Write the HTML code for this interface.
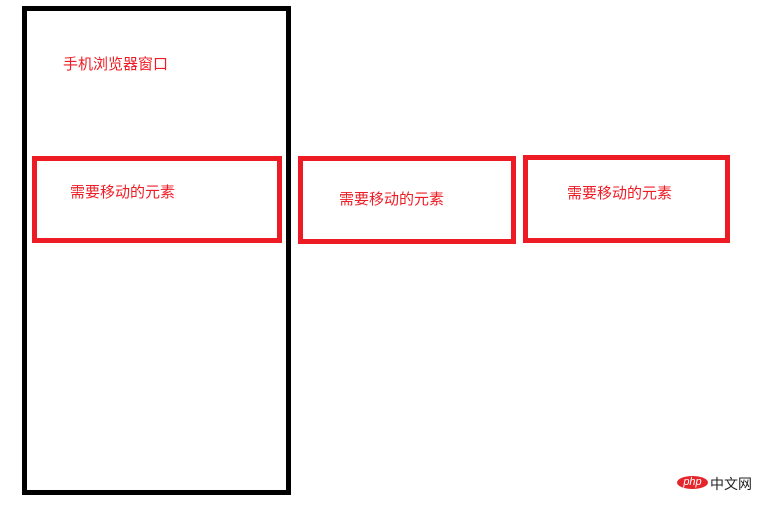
<!DOCTYPE html>
<html><head><meta charset="utf-8"><style>
html,body{margin:0;padding:0;background:#fff;width:769px;height:505px;overflow:hidden;position:relative}
.b{position:absolute;box-sizing:border-box}
.t{position:absolute;font-family:"Liberation Sans","Noto Sans CJK SC",sans-serif;font-size:15px;color:#ee1c25;white-space:nowrap;line-height:16px}
</style></head><body>
<div class="b" style="left:22px;top:6px;width:269px;height:489px;border:5px solid #000"></div>
<div class="b" style="left:32px;top:156px;width:250px;height:87px;border:5px solid #ed1c24"></div>
<div class="b" style="left:298px;top:156px;width:218px;height:88px;border:5px solid #ed1c24"></div>
<div class="b" style="left:523px;top:155px;width:207px;height:88px;border:5px solid #ed1c24"></div>
<div class="t" style="left:63px;top:57px">手机浏览器窗口</div>
<div class="t" style="left:70px;top:185px">需要移动的元素</div>
<div class="t" style="left:339px;top:192px">需要移动的元素</div>
<div class="t" style="left:567px;top:186px">需要移动的元素</div>
<div class="b" style="left:677px;top:476px;width:31px;height:13px;border-radius:50%;background:#e4262c;color:#fff;font:italic 11px 'Liberation Sans',sans-serif;text-align:center;line-height:12px">php</div>
<div class="t" style="left:710px;top:476px;color:#222;font-size:14px">中文网</div>
</body></html>
